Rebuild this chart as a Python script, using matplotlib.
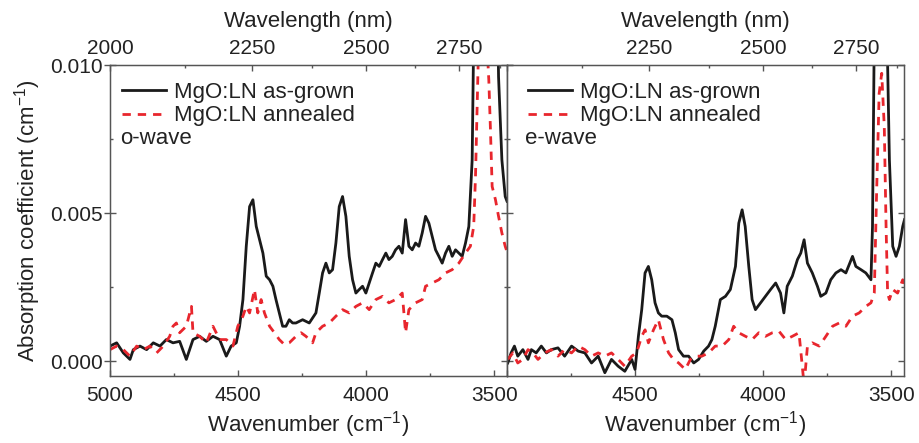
'''
Absorption spectra of MgO:LN, as-grown vs. annealed, o-wave and e-wave
'''

import matplotlib.pyplot as plt
from matplotlib.ticker import FixedLocator

plt.rcParams['font.family'] = ['Liberation Sans', 'DejaVu Sans']
plt.rcParams['mathtext.default'] = 'regular'

# o-wave, as-grown (wavenumber cm-1, absorption in 1e-3 cm-1)
o_grown_wn = [5000, 4974, 4948, 4922, 4909, 4883, 4857, 4831, 4805, 4780, 4754, 4728, 4702,
              4676, 4650, 4624, 4598, 4572, 4546, 4527, 4507, 4494, 4481, 4468, 4455, 4442,
              4429, 4416, 4403, 4390, 4377, 4364, 4352, 4339, 4326, 4313, 4300, 4287, 4274,
              4248, 4222, 4196, 4183, 4170, 4157, 4144, 4131, 4118, 4105, 4092, 4079, 4066,
              4053, 4040, 4027, 4014, 4001, 3988, 3975, 3962, 3949, 3936, 3923, 3911, 3898,
              3885, 3872, 3859, 3846, 3833, 3820, 3807, 3794, 3781, 3768, 3755, 3742, 3729,
              3716, 3703, 3690, 3677, 3664, 3651, 3638, 3625, 3612, 3599, 3586, 3580, 3565,
              3540, 3510, 3490, 3483, 3470, 3457, 3450]
o_grown = [0.51, 0.62, 0.28, 0.06, 0.39, 0.51, 0.39, 0.62, 0.51, 0.73, 0.62, 0.67, 0.06,
           0.73, 0.84, 0.67, 0.84, 0.73, 0.17, 0.51, 0.62, 1.18, 2.08, 3.88, 5.22, 5.45,
           4.55, 4.10, 3.65, 2.87, 2.75, 2.53, 2.08, 1.63, 1.18, 1.18, 1.40, 1.29, 1.29,
           1.40, 1.29, 1.63, 2.30, 2.98, 3.31, 2.98, 3.09, 3.99, 5.22, 5.56, 4.89, 3.54,
           2.75, 2.30, 2.42, 2.53, 2.30, 2.64, 2.98, 3.31, 3.20, 3.43, 3.65, 3.43, 3.54,
           3.76, 3.88, 3.65, 4.78, 3.88, 3.76, 3.99, 3.88, 4.33, 4.89, 4.66, 4.21, 3.76,
           3.54, 3.31, 3.65, 3.88, 3.54, 3.76, 3.65, 3.54, 3.99, 4.55, 6.80, 11.0, 18.0,
           25.0, 22.0, 14.0, 9.6, 6.8, 5.56, 5.4]

# o-wave, annealed
o_ann_wn = [5000, 4974, 4948, 4922, 4896, 4870, 4844, 4818, 4792, 4767, 4754, 4741, 4728,
            4702, 4682, 4676, 4650, 4624, 4598, 4572, 4546, 4520, 4501, 4481, 4468, 4455,
            4436, 4423, 4410, 4397, 4377, 4358, 4339, 4319, 4300, 4274, 4254, 4235, 4209,
            4196, 4170, 4144, 4118, 4092, 4066, 4040, 4014, 3988, 3962, 3936, 3911, 3885,
            3859, 3846, 3833, 3807, 3781, 3768, 3742, 3716, 3690, 3664, 3638, 3612, 3593,
            3580, 3573, 3560, 3545, 3530, 3521, 3515, 3508, 3495, 3483, 3470, 3457, 3450]
o_ann = [0.39, 0.51, 0.39, 0.17, 0.51, 0.39, 0.51, 0.28, 0.51, 0.84, 1.18, 1.29, 0.96,
         1.18, 1.85, 0.96, 0.84, 0.62, 1.18, 0.73, 0.73, 0.51, 1.18, 1.52, 1.85, 1.63,
         2.42, 1.63, 2.08, 1.63, 1.18, 0.96, 0.73, 0.56, 0.62, 0.84, 0.96, 0.84, 0.62,
         0.96, 1.18, 1.29, 1.52, 1.74, 1.63, 1.85, 1.97, 1.74, 2.08, 2.19, 1.97, 2.08,
         2.30, 0.96, 1.74, 1.97, 2.08, 2.53, 2.64, 2.75, 2.98, 3.09, 3.31, 3.65, 3.88,
         4.55, 6.24, 11.0, 13.0, 11.0, 9.49, 7.92, 5.90, 5.45, 4.89, 4.33, 3.88, 3.7]

# e-wave, as-grown
e_grown_wn = [4997, 4984, 4971, 4958, 4938, 4918, 4905, 4886, 4866, 4846, 4827, 4801, 4775,
              4748, 4722, 4696, 4670, 4644, 4618, 4592, 4566, 4540, 4513, 4500, 4487, 4474,
              4461, 4448, 4435, 4422, 4409, 4396, 4376, 4356, 4343, 4330, 4311, 4291, 4271,
              4252, 4232, 4213, 4200, 4187, 4167, 4147, 4128, 4108, 4095, 4082, 4070, 4056,
              4043, 4030, 4010, 3991, 3971, 3951, 3932, 3919, 3906, 3886, 3866, 3853, 3840,
              3827, 3808, 3788, 3775, 3755, 3736, 3716, 3696, 3677, 3651, 3638, 3618, 3599,
              3579, 3573, 3565, 3545, 3525, 3515, 3507, 3494, 3481, 3468, 3455, 3448]
e_grown = [-0.06, 0.28, 0.51, 0.17, 0.39, 0.06, 0.39, 0.28, 0.51, 0.28, 0.39, 0.45, 0.17,
           0.51, 0.34, 0.28, -0.06, 0.17, -0.39, 0.06, -0.17, -0.34, 0.06, -0.28, 0.84, 1.74,
           2.98, 3.20, 2.75, 1.97, 1.63, 1.52, 1.52, 1.40, 0.96, 0.39, 0.17, 0.17, -0.06,
           0.06, 0.34, 0.51, 0.73, 1.18, 2.08, 2.19, 2.42, 3.20, 4.66, 5.11, 4.55, 3.20,
           2.08, 1.74, 1.97, 2.19, 2.42, 2.64, 2.30, 1.63, 2.53, 2.87, 3.43, 3.65, 4.10,
           3.31, 2.98, 2.53, 2.19, 2.30, 2.75, 2.98, 3.09, 2.98, 3.54, 3.20, 3.09, 2.98,
           2.75, 4.55, 12.0, 20.0, 14.0, 10.5, 6.80, 3.88, 3.54, 3.88, 4.55, 4.78]

# e-wave, annealed
e_ann_wn = [4997, 4977, 4958, 4938, 4918, 4899, 4879, 4853, 4827, 4801, 4775, 4748, 4722,
            4696, 4670, 4644, 4618, 4592, 4566, 4540, 4513, 4494, 4474, 4461, 4448, 4428,
            4409, 4389, 4369, 4350, 4330, 4304, 4284, 4265, 4239, 4213, 4187, 4160, 4134,
            4115, 4095, 4069, 4043, 4017, 3991, 3964, 3938, 3912, 3886, 3860, 3840, 3827,
            3808, 3781, 3755, 3729, 3703, 3677, 3651, 3625, 3599, 3579, 3566, 3557, 3547,
            3537, 3527, 3520, 3514, 3507, 3494, 3475, 3455, 3448]
e_ann = [0.06, 0.28, -0.06, 0.06, 0.39, 0.28, 0.06, 0.28, 0.39, 0.17, 0.39, 0.28, 0.51,
         0.39, 0.17, 0.28, 0.17, 0.28, 0.06, -0.17, 0.17, 0.28, 0.84, 1.06, 0.62, 1.06,
         1.40, 0.73, 0.28, 0.06, -0.06, -0.28, 0.06, 0.17, 0.17, 0.28, 0.51, 0.51, 0.73,
         1.18, 0.96, 0.84, 0.73, 0.96, 0.84, 0.96, 1.01, 0.73, 0.84, 0.96, -0.8, 0.51,
         0.62, 0.51, 0.84, 1.18, 1.29, 1.18, 1.52, 1.63, 1.85, 1.97, 2.30, 5.67, 9.04,
         9.72, 7.92, 4.55, 2.30, 2.08, 2.42, 2.30, 2.75, 2.6]

xticks = [5000, 4500, 4000, 3500]
xminor = [4750, 4250, 3750]
nm_ticks = [2000, 2250, 2500, 2750]
nm_minor = [2125, 2375, 2625, 2875]

RED = '#e8262d'
BLK = '#1a1a1a'
SPINE = '#555555'
TXT = '#222222'
FS = 15      # tick labels
LFS = 16     # axis labels, legend

fig = plt.figure(figsize=(9.2, 4.43), dpi=100)
ax1 = fig.add_axes([110 / 920, 67 / 443, 397 / 920, 311 / 443])
ax2 = fig.add_axes([507 / 920, 67 / 443, 397 / 920, 311 / 443])

panels = [(ax1, o_grown_wn, o_grown, o_ann_wn, o_ann, 'o-wave'),
          (ax2, e_grown_wn, e_grown, e_ann_wn, e_ann, 'e-wave')]

for i, (ax, gx, gy, ax_, ay, name) in enumerate(panels):
    ax.plot(gx, [v * 1e-3 for v in gy], color=BLK, lw=2.0, label='MgO:LN as-grown')
    ax.plot(ax_, [v * 1e-3 for v in ay], color=RED, lw=2.0, dashes=(3, 2.5),
            label='MgO:LN annealed')
    ax.set_xlim(5000, 3450)
    ax.set_ylim(-0.0005, 0.010)
    for s in ax.spines.values():
        s.set_color(SPINE)
        s.set_linewidth(1.0)

    ax.xaxis.set_major_locator(FixedLocator(xticks))
    ax.xaxis.set_minor_locator(FixedLocator(xminor))
    ax.set_xticklabels(['5000' if i == 0 else ''] + ['4500', '4000', '3500'])
    ax.yaxis.set_major_locator(FixedLocator([0.0, 0.005, 0.010]))
    ax.yaxis.set_minor_locator(FixedLocator([0.0025, 0.0075]))
    ax.tick_params(which='both', direction='in', right=True, colors=SPINE,
                   labelcolor=TXT, labelsize=FS, pad=7)
    ax.tick_params(which='major', length=4, width=1)
    ax.tick_params(which='minor', length=2.5, width=1)
    if i == 0:
        ax.set_yticklabels(['0.000', '0.005', '0.010'])
        ax.tick_params(axis='y', which='major', direction='inout', length=8, pad=1)
        ax.set_ylabel('Absorption coefficient (cm$^{-1}$)', fontsize=LFS, color=TXT,
                      labelpad=5)
    else:
        ax.set_yticklabels([])

    # wavelength axis on top
    top = ax.twiny()
    top.set_xlim(ax.get_xlim())
    top.xaxis.set_major_locator(FixedLocator([1e7 / w for w in nm_ticks]))
    top.xaxis.set_minor_locator(FixedLocator([1e7 / w for w in nm_minor]))
    top.set_xticklabels(['2000' if i == 0 else '', '2250', '2500', '2750'])
    top.tick_params(which='both', direction='in', colors=SPINE, labelcolor=TXT,
                    labelsize=FS, pad=5)
    top.tick_params(which='major', length=4, width=1)
    top.tick_params(which='minor', length=2.5, width=1)
    for s in top.spines.values():
        s.set_color(SPINE)
    top.set_xlabel('Wavelength (nm)', fontsize=LFS, color=TXT, labelpad=9)

    ax.set_xlabel('Wavenumber (cm$^{-1}$)', fontsize=LFS, color=TXT, labelpad=3)

    x0 = -0.012 if i == 0 else 0.01
    leg = ax.legend(loc='upper left', bbox_to_anchor=(x0, 1.0), frameon=False,
                    fontsize=LFS, handlelength=2.0, handletextpad=0.35,
                    labelspacing=0.12, borderaxespad=0.55, borderpad=0.2)
    for t in leg.get_texts():
        t.set_color(TXT)
    ax.text(0.025 if i == 0 else 0.045, 0.765, name, transform=ax.transAxes,
            fontsize=LFS, color=TXT, va='center', ha='left')

fig.savefig('out.png', dpi=100)
